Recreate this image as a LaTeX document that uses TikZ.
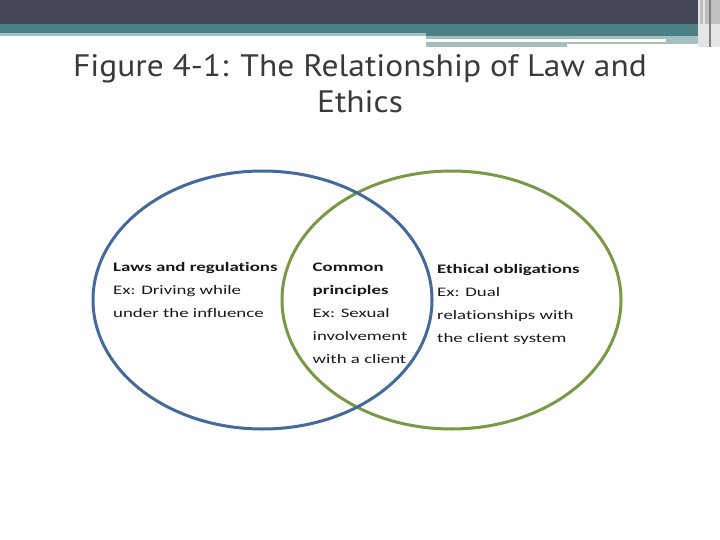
\documentclass[tikz,border=0pt]{standalone}
\usepackage{fontspec}
\setmainfont{Carlito}[FakeStretch=1.45, Ligatures=NoCommon]
\newfontfamily\titlefont{PT Sans}[FakeStretch=1.08]
\usetikzlibrary{positioning, shapes.geometric}

\definecolor{bardark}{HTML}{444557}
\definecolor{barteal}{HTML}{4B8084}
\definecolor{barlight}{HTML}{A4BFC1}
\definecolor{lawblue}{HTML}{44699B}
\definecolor{ethgreen}{HTML}{789A46}
\definecolor{titlegray}{HTML}{3A3A3A}

\begin{document}
\begin{tikzpicture}[
                x=1pt, y=-1pt,
                setcirc/.style={
                  ellipse, draw, line width=3pt,
                  minimum width=339pt, minimum height=258pt
                },
                blocktext/.style={
                  align=left, inner sep=0pt, anchor=base west,
                  font=\fontsize{13}{23}\selectfont, text=black!90
                }
              ]
              \useasboundingbox (0,0) rectangle (720,540);

              % header bars
              \fill[bardark] (0,0) rectangle (700,24);
              \fill[barteal] (0,24) rectangle (426,33);
              \fill[barlight] (0,33) rectangle (426,36);
              \fill[barteal] (426,24) rectangle (700,36);
              \fill[barlight] (426,36) rectangle (700,47);
              \fill[white] (426,39) rectangle (666,42);
              \fill[white] (567,44) rectangle (700,47);
              \fill[black!25] (700,0) rectangle (720,24);
              \fill[black!10] (700,24) rectangle (720,47);
              \draw[white!80!gray, line width=1.5pt] (699,0) -- (699,47);
              \draw[white!80!gray, line width=1.5pt] (704,0) -- (704,47);
              \draw[gray, line width=2pt] (710,0) -- (710,47);

              \node (title) [align=center, text=titlegray, inner sep=0pt,
                font=\titlefont\fontsize{31}{36}\selectfont, anchor=base]
                at (360,113) {Figure 4-1: The Relationship of Law and\\ Ethics};

              \node (ethics) [setcirc, draw=ethgreen] at (451.5,300) {};
              \node (law) [setcirc, draw=lawblue] at (262.5,300) {};

              % texts are placed by their last line
              \node (lawtext) [blocktext] at (113,317)
                {\textbf{Laws and regulations}\\ Ex: Driving while\\ under the influence};
              \node (common) [blocktext] at (312.5,363)
                {\textbf{Common}\\ \textbf{principles}\\ Ex: Sexual\\ involvement\\ with a client};
              \node (ethtext) [blocktext] at (437,342)
                {\textbf{Ethical obligations}\\ Ex: Dual\\ relationships with\\ the client system};

            \end{tikzpicture}
\end{document}
